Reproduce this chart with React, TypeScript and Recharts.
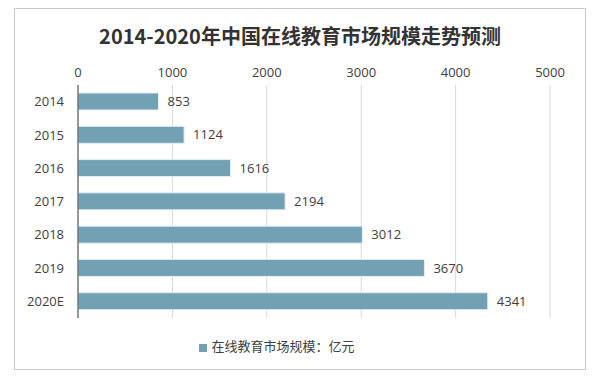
import { BarChart, Bar, XAxis, YAxis, CartesianGrid, Legend, LabelList } from "recharts";

const years = ["2014", "2015", "2016", "2017", "2018", "2019", "2020E"];
const marketSize = [853, 1124, 1616, 2194, 3012, 3670, 4341];
const xTicks = [0, 1000, 2000, 3000, 4000, 5000];

const seriesName = "在线教育市场规模：亿元";
const barColor = "#72A1B4";
const font = "'Open Sans', 'Noto Sans CJK SC', sans-serif";

const data = years.map((year, i) => ({ year, value: marketSize[i] }));

export default function App() {
  return (
    <div style={{ position: "fixed", left: 0, top: 0, width: 600, height: 380, background: "#fff", fontFamily: font }}>
      {/* outer frame */}
      <div
        style={{
          position: "absolute",
          left: 14,
          top: 8,
          width: 572,
          height: 362,
          border: "1px solid #c9c9c9",
          boxSizing: "border-box",
        }}
      />
      <div
        style={{
          position: "absolute",
          top: 21,
          left: 0,
          width: 600,
          textAlign: "center",
          fontSize: 20,
          fontWeight: 700,
          color: "#333",
          fontFamily: "'Noto Sans CJK SC', sans-serif",
        }}
      >
        2014-2020年中国在线教育市场规模走势预测
      </div>
      <div style={{ position: "absolute", left: 0, top: 0 }}>
        <BarChart
          width={600}
          height={380}
          data={data}
          layout="vertical"
          margin={{ top: 65, right: 50, bottom: 22, left: 14 }}
        >
          <CartesianGrid horizontal={false} stroke="#d9d9d9" />
          <XAxis
            type="number"
            orientation="top"
            domain={[0, 5000]}
            ticks={xTicks}
            height={20}
            axisLine={false}
            tickLine={false}
            tick={{ fontSize: 13, fill: "#404040", fontFamily: font }}
          />
          <YAxis
            type="category"
            dataKey="year"
            width={64}
            axisLine={{ stroke: "#404040" }}
            tickLine={false}
            tickMargin={8}
            tick={{ fontSize: 13, fill: "#404040", fontFamily: font }}
          />
          <Legend
            verticalAlign="bottom"
            height={40}
            iconType="square"
            iconSize={8}
            wrapperStyle={{ paddingTop: 18, boxSizing: "border-box", fontSize: 13, fontFamily: font }}
            formatter={(v) => <span style={{ color: "#404040" }}>{v}</span>}
          />
          <Bar
            dataKey="value"
            name={seriesName}
            fill={barColor}
            stroke="#e6eef2"
            strokeWidth={1}
            barSize={17}
            isAnimationActive={false}
          >
            <LabelList
              dataKey="value"
              position="right"
              offset={9}
              style={{ fontSize: 13, fill: "#404040", fontFamily: font }}
            />
          </Bar>
        </BarChart>
      </div>
    </div>
  );
}
